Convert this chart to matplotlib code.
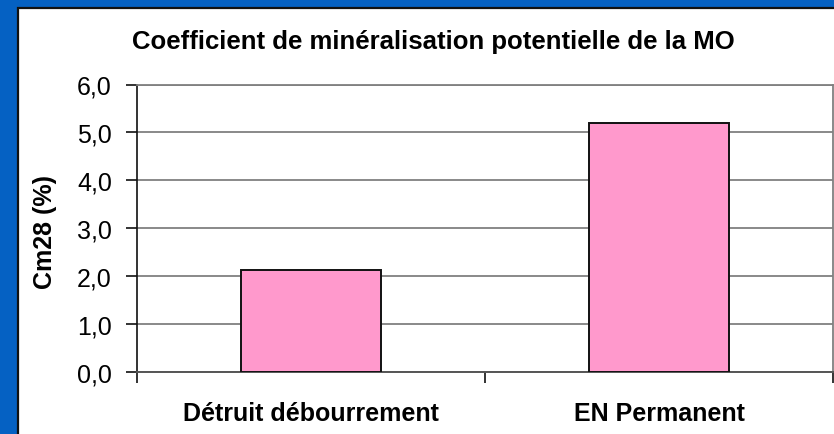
import matplotlib
matplotlib.use("Agg")
import matplotlib.pyplot as plt
from matplotlib.patches import Rectangle

categories = ["Détruit débourrement", "EN Permanent"]
values = [2.13, 5.2]
yticks = [0, 1, 2, 3, 4, 5, 6]
title = "Coefficient de minéralisation potentielle de la MO"
ylabel = "Cm28 (%)"

plt.rcParams['font.family'] = ['Liberation Sans', 'DejaVu Sans']

W, H = 834, 435
fig = plt.figure(figsize=(W / 100, H / 100), dpi=100, facecolor="#0561C3")

# white chart panel
panel = Rectangle((18 / W, -0.05), 1.0, (435 - 9) / H + 0.05, transform=fig.transFigure,
                  facecolor="white", edgecolor="#111111", linewidth=1.6, zorder=-10)
fig.patches.append(panel)

ax = fig.add_axes([137 / W, 1 - 372.7 / H, (833 - 137) / W, (372.7 - 85.5) / H])
ax.set_zorder(1)
ax.set_facecolor("white")

x = [i + 0.5 for i in range(len(categories))]
ax.bar(x, values, width=0.4, color="#FF99CC", edgecolor="#111111", linewidth=1.4, zorder=3)

ax.set_xlim(0, len(categories))
ax.set_ylim(yticks[0], yticks[-1])
ax.set_yticks(yticks)
ax.set_yticklabels([f"{v:.1f}".replace(".", ",") for v in yticks], fontsize=18)
ax.yaxis.grid(True, color="#808080", linewidth=1.3, zorder=1)
ax.set_axisbelow(True)

ax.set_xticks(range(len(categories) + 1))
ax.set_xticklabels([""] * (len(categories) + 1))
ax.set_xticks(x, minor=True)
ax.set_xticklabels(categories, minor=True, fontsize=18, fontweight="bold")
ax.tick_params(axis="x", which="minor", length=0, pad=21)
ax.tick_params(axis="x", which="major", length=8, width=1.2, direction="out", color="#111111")
ax.tick_params(axis="y", length=8, width=1.2, direction="out", color="#111111", pad=10)

for s in ["top", "right"]:
    ax.spines[s].set_color("#808080")
    ax.spines[s].set_linewidth(1.3)
ax.spines["bottom"].set_color("#555555")
ax.spines["bottom"].set_linewidth(1.4)
ax.spines["left"].set_color("#111111")
ax.spines["left"].set_linewidth(1.2)

fig.text(45 / W, 1 - 232 / H, ylabel, rotation=90, ha="center", va="center",
         fontsize=18, fontweight="bold")
fig.text(433 / W, 1 - 49 / H, title, ha="center", va="baseline",
         fontsize=18.5, fontweight="bold")

fig.savefig("out.png", dpi=100, facecolor=fig.get_facecolor())
